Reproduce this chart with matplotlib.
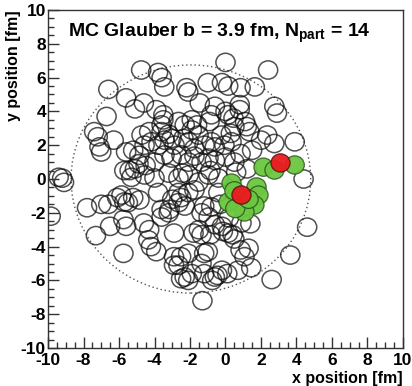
import numpy as np
import matplotlib
matplotlib.use("Agg")
from matplotlib import pyplot as plt
from matplotlib.patches import Circle

plt.rcParams["font.family"] = ["Liberation Sans", "DejaVu Sans"]
plt.rcParams["mathtext.fontset"] = "custom"
plt.rcParams["mathtext.rm"] = "Liberation Sans:bold"
plt.rcParams["mathtext.bf"] = "Liberation Sans:bold"
plt.rcParams["axes.unicode_minus"] = False  # 用短横线作负号

# 原子核参数
b = 3.9
n_part = 14
r_nucleon = 0.54
au_center = (-b / 2, 0.0)
au_radius = 6.75

# 金核中未参与碰撞的核子位置 (fm)
spec_xy = [
    (-4.75, 6.45), (-3.8, 6.3), (-3.6, 6.0), (-3.45, 5.45), (-6.6, 5.3), (-5.6, 4.8),
    (-4.6, 4.5), (-5.1, 4.15), (-6.7, 3.7), (-2.2, 5.4), (-2.1, 5.15), (-1.0, 5.7),
    (0.0, 6.9), (2.4, 6.45), (-0.2, 5.7), (0.15, 5.5), (0.85, 5.4), (1.65, 5.45),
    (-1.45, 4.5),
    (-3.9, 4.1), (-3.5, 3.8), (-3.5, 3.5), (-3.6, 3.2), (-2.65, 3.4), (-2.3, 3.2),
    (-1.9, 3.5), (-1.6, 3.2), (-1.9, 2.9), (-0.8, 3.8), (-0.9, 3.4), (0.15, 3.8),
    (0.45, 3.6), (-4.3, 2.8), (-3.6, 2.8), (-3.2, 2.65),
    (0.8, 4.4), (0.8, 4.1), (2.75, 4.3), (2.9, 3.9), (0.0, 4.0), (-0.6, 4.3),
    (1.1, 3.4), (1.2, 3.1), (1.35, 2.8), (0.5, 3.1), (0.3, 2.7), (2.0, 2.3),
    (2.35, 2.6), (2.75, 2.1), (3.9, 2.2), (1.5, 1.7), (0.85, 1.5), (-0.6, 1.9),
    (-0.6, 1.1), (0.0, 1.3), (-0.85, 0.5), (4.4, 0.0),
    (-7.4, 2.8), (-7.2, 2.5), (-6.3, 2.3), (-7.1, 1.9), (-7.0, 1.6), (-5.6, 1.6),
    (-5.2, 1.7), (-4.85, 1.4), (-5.7, 0.5), (-5.4, 0.5), (-5.1, 0.6), (-4.9, 0.9),
    (-4.5, 0.8), (-5.3, 0.1), (-9.4, 0.1), (-9.2, 0.05), (-9.1, -0.2), (-3.2, 0.35),
    (-2.4, 0.35),
    (-4.73, 2.6), (-4.56, 2.0), (-4.17, 2.2), (-3.78, 2.0), (-3.44, 2.3), (-3.04, 2.4),
    (-2.87, 2.0), (-2.37, 2.4), (-2.08, 2.2), (-1.52, 2.6), (-1.75, 1.8), (-1.18, 2.0),
    (-0.79, 2.2), (-0.23, 2.6), (-0.06, 2.0), (0.34, 2.2),
    (-4.0, 1.0), (-3.44, 1.42), (-3.04, 1.24), (-2.48, 1.42), (-2.08, 1.0), (-1.75, 1.35),
    (-1.35, 1.0), (-0.96, 1.24), (0.5, 1.0),
    (-4.56, 0.24), (-4.0, 0.06), (-2.65, 0.06), (-2.08, 0.24), (-1.52, -0.18),
    (-0.96, 0.24), (-0.4, 0.06),
    (-9.85, -2.2), (-7.8, -1.7), (-7.0, -1.5), (-6.6, -1.5), (-6.1, -1.1), (-5.86, -0.95),
    (-5.7, -1.36), (-5.5, -1.4), (-5.2, -1.1), (-4.85, -1.24), (-7.3, -3.35), (-6.5, -2.8),
    (-5.75, -2.4), (-5.6, -2.8), (-5.75, -4.4), (-4.6, -2.6), (-4.3, -3.0), (-4.35, -3.6),
    (-4.2, -4.0), (-3.9, -4.3), (-3.6, -1.8), (-3.2, -2.0), (-3.0, -1.2), (-2.65, -1.4),
    (-2.3, -1.6), (-2.9, -3.2), (-2.9, -4.6), (-2.9, -5.1), (-2.5, -4.6), (-2.1, -4.4),
    (-2.5, -5.9), (-2.1, -6.0), (-1.3, -7.2), (-1.8, -3.2), (-1.5, -3.0), (-1.35, -3.3),
    (-1.35, -2.0), (-1.2, -1.6), (-1.35, -5.0), (-1.2, -5.6), (4.6, -2.85), (3.65, -4.5),
    (2.6, -5.95), (1.4, -2.65), (1.3, -4.1), (1.45, -5.25), (0.4, -3.3), (0.5, -3.55),
    (-0.6, -2.7), (-0.15, -3.1), (-0.85, -3.3), (-1.0, -4.3), (0.85, -4.2), (1.07, -4.6),
    (0.1, -5.6), (-0.45, -5.7), (-0.75, -6.0), (0.7, -5.4),
    (-3.8, -0.8), (-2.65, -0.8), (-2.5, -1.1), (-2.1, -0.8), (-1.75, -0.65), (-3.15, -1.8),
    (-3.6, -2.25), (-0.95, -2.25), (-0.8, -1.65), (-0.2, -2.8), (0.15, -3.2), (-2.65, -5.1),
    (-1.2, -4.4), (-1.9, -5.6), (-2.3, -5.8), (-0.6, -5.8), (-0.2, -5.4),
    (0.2, -2.3), (-0.3, -1.5), (0.9, -2.6), (-0.4, -0.8), (0.6, 0.4), (1.2, 0.6),
]

# 金核中的参与者 (绿色)
part_xy = [
    (2.14, 0.7), (2.76, 0.53), (3.9, 0.83),
    (0.34, -0.24), (1.75, -0.47), (1.86, -0.95), (0.17, -1.36), (1.63, -1.54),
    (1.07, -1.95), (0.55, -1.75), (1.3, -1.2), (0.5, -0.7),
]

# 氘核的两个核子 (红色)
deut_xy = [(3.1, 0.95), (0.9, -0.95)]

fig = plt.figure(figsize=(4.12, 3.86), dpi=100)
ax = fig.add_axes([48 / 412, 1 - 348 / 386, 355 / 412, 338 / 386])
ax.set_xlim(-10, 10)
ax.set_ylim(-10, 10)

ax.add_patch(Circle(au_center, au_radius, fill=False, ls=(0, (1, 2)),
                    lw=1.0, ec="#555555"))

for x, y in spec_xy:
    ax.add_patch(Circle((x, y), r_nucleon, fill=False, lw=1.1,
                        ec=(0.05, 0.05, 0.05, 0.72)))
for x, y in part_xy:
    ax.add_patch(Circle((x, y), r_nucleon, fc=(0.42, 0.78, 0.25, 0.95), lw=0.9,
                        ec=(0.15, 0.3, 0.1, 0.8)))
for x, y in deut_xy:
    ax.add_patch(Circle((x, y), r_nucleon, fc=(0.92, 0.1, 0.12, 0.95), lw=0.9,
                        ec=(0.3, 0.05, 0.05, 0.8)))

ax.set_xticks(np.arange(-10, 11, 2))
ax.set_yticks(np.arange(-10, 11, 2))
ax.set_xticks(np.arange(-10, 10.1, 0.5), minor=True)
ax.set_yticks(np.arange(-10, 10.1, 0.5), minor=True)
ax.tick_params(which="both", direction="in", top=False, right=False,
               width=1.0, color="#333333")
ax.tick_params(which="major", length=8, labelsize=12.5)
ax.tick_params(which="minor", length=4)
ax.tick_params(axis="x", pad=3.5)
ax.tick_params(axis="y", pad=1.5)
for lab in ax.get_xticklabels() + ax.get_yticklabels():
    lab.set_fontweight("bold")
for sp in ax.spines.values():
    sp.set_linewidth(1.0)
    sp.set_color("#333333")

ax.text(-8.85, 8.6, r"MC Glauber b = 3.9 fm, N$_{\mathbf{part}}$ = 14",
        fontsize=14, fontweight="bold", ha="left", va="center")

fig.text(403 / 412, 1 - 378 / 386, "x position [fm]", fontsize=11.5,
         fontweight="bold", ha="right", va="center")
fig.text(14 / 412, 1 - 10 / 386, "y position [fm]", fontsize=11.5,
         fontweight="bold", ha="center", va="top", rotation=90)

fig.savefig("out.png", dpi=100)
